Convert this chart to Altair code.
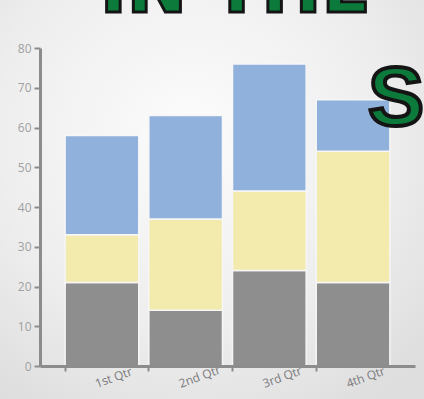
import altair as alt
import pandas as pd

quarters = ["1st Qtr", "2nd Qtr", "3rd Qtr", "4th Qtr"]
series_names = ["Series 1", "Series 2", "Series 3"]
series_1 = [21, 14, 24, 21]   # grey, bottom
series_2 = [12, 23, 20, 33]   # yellow, middle
series_3 = [25, 26, 32, 13]   # blue, top
y_ticks = [0, 10, 20, 30, 40, 50, 60, 70, 80]

rows = []
for i, q in enumerate(quarters):
    for k, (name, vals) in enumerate(zip(series_names, [series_1, series_2, series_3])):
        rows.append({"quarter": q, "series": name, "order": k, "value": vals[i]})
df = pd.DataFrame(rows)

W, H = 375, 318
PAD = {"left": 40, "top": 48, "right": 9, "bottom": 33}

backdrop = alt.Chart(pd.DataFrame({"a": [0]})).mark_rect(
    fill=alt.RadialGradient(
        gradient="radial",
        x1=0.45, y1=0.35, r1=0.0,
        x2=0.45, y2=0.35, r2=0.75,
        stops=[
            alt.GradientStop(color="#fcfcfc", offset=0.0),
            alt.GradientStop(color="#efeeef", offset=0.6),
            alt.GradientStop(color="#dededf", offset=1.0),
        ],
    )
).encode(x=alt.value(-PAD["left"]), x2=alt.value(W + PAD["right"]),
         y=alt.value(-PAD["top"]), y2=alt.value(H + PAD["bottom"]))

bars = alt.Chart(df).mark_bar(stroke="#f6f6f6", strokeWidth=1.5).encode(
    x=alt.X("quarter:N", sort=quarters,
            scale=alt.Scale(paddingInner=0.12, paddingOuter=0.3),
            axis=alt.Axis(title=None, labelAngle=-20, labelColor="#7a7a7a",
                          labelFontSize=12, labelFont="Open Sans",
                          labelAlign="left", labelBaseline="top",
                          labelOffset=-8,
                          domainColor="#8c8c8c", domainWidth=3,
                          tickColor="#8c8c8c", tickWidth=2, tickSize=5,
                          bandPosition=0, labelPadding=8, zindex=2)),
    y=alt.Y("value:Q", stack="zero",
            scale=alt.Scale(domain=[0, 80], nice=False),
            axis=alt.Axis(title=None, values=y_ticks, labelColor="#a0a0a0",
                          labelFontSize=12, labelFont="Open Sans",
                          domainColor="#8c8c8c", domainWidth=3,
                          tickColor="#8c8c8c", tickWidth=2, tickSize=6,
                          grid=False, labelPadding=3, zindex=2)),
    color=alt.Color("series:N", sort=series_names,
                    scale=alt.Scale(domain=series_names,
                                    range=["#8e8e8e", "#f3eaae", "#8fb1dc"]),
                    legend=None),
    order=alt.Order("order:Q"),
)

title_text = alt.Chart(pd.DataFrame({"t": ["IN THE"]})).mark_text(
    font="DejaVu Sans", fontWeight="bold", fontSize=72, fill="#0b7a3b",
    stroke="#141414", strokeWidth=3, align="left", baseline="alphabetic",
).encode(text="t:N", x=alt.value(60), y=alt.value(-36))

big_s = alt.Chart(pd.DataFrame({"t": ["S"]})).mark_text(
    font="Liberation Sans", fontWeight="bold", fontSize=84, fill="#0b7a3b",
    stroke="#141414", strokeWidth=4, align="left", baseline="alphabetic",
).encode(text="t:N", x=alt.value(328), y=alt.value(77))

chart = alt.layer(backdrop, bars, title_text, big_s).properties(
    width=W, height=H,
    padding=PAD,
    autosize=alt.AutoSizeParams(type="none"),
    background="#ededed",
).configure_view(stroke=None)

chart.save("out.html", embed_options={"renderer": "svg", "actions": False})
